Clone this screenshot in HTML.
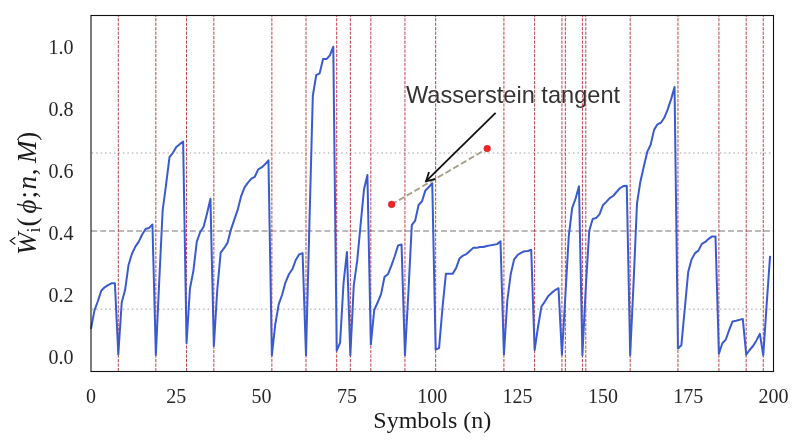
<!DOCTYPE html>
<html><head><meta charset="utf-8"><style>
html,body{margin:0;padding:0;background:#fff;}
svg{display:block;will-change:transform;}
.tk{font-family:"Liberation Serif",serif;font-size:20px;fill:#262626;}
.rl{stroke:#b82c36;stroke-width:1.0;stroke-dasharray:3.2 1.285;stroke-dashoffset:1.825;opacity:0.9}
</style></head><body>
<svg width="797" height="444" viewBox="0 0 797 444">
<rect width="797" height="444" fill="#fff"/>
<line x1="91.75" y1="153.07" x2="773.5" y2="153.07" stroke="#c0c0c0" stroke-width="1.5" stroke-dasharray="1.5 2.955"/>
<line x1="91.75" y1="309.3" x2="773.5" y2="309.3" stroke="#c0c0c0" stroke-width="1.5" stroke-dasharray="1.5 2.955"/>
<line x1="91.15" y1="231.07" x2="773.5" y2="231.07" stroke="#a4a4a4" stroke-width="1.6" stroke-dasharray="6.0 2.97"/>
<text x="405.9" y="103.0" font-family="'Liberation Sans', sans-serif" font-size="23.6" fill="#333">Wasserstein tangent</text>
<line x1="391.65" y1="204.4" x2="487.1" y2="148.7" stroke="#a69f8a" stroke-width="1.9" stroke-dasharray="6.2 2.77" stroke-dashoffset="0.47"/>
<line x1="118.30" y1="15.5" x2="118.30" y2="371.5" class="rl"/>
<line x1="155.84" y1="15.5" x2="155.84" y2="371.5" class="rl"/>
<line x1="186.55" y1="15.5" x2="186.55" y2="371.5" class="rl"/>
<line x1="213.85" y1="15.5" x2="213.85" y2="371.5" class="rl"/>
<line x1="271.86" y1="15.5" x2="271.86" y2="371.5" class="rl"/>
<line x1="305.99" y1="15.5" x2="305.99" y2="371.5" class="rl"/>
<line x1="336.70" y1="15.5" x2="336.70" y2="371.5" class="rl"/>
<line x1="350.35" y1="15.5" x2="350.35" y2="371.5" class="rl"/>
<line x1="370.82" y1="15.5" x2="370.82" y2="371.5" class="rl"/>
<line x1="404.95" y1="15.5" x2="404.95" y2="371.5" class="rl"/>
<line x1="435.66" y1="15.5" x2="435.66" y2="371.5" class="rl"/>
<line x1="503.91" y1="15.5" x2="503.91" y2="371.5" class="rl"/>
<line x1="534.62" y1="15.5" x2="534.62" y2="371.5" class="rl"/>
<line x1="561.92" y1="15.5" x2="561.92" y2="371.5" class="rl"/>
<line x1="565.34" y1="15.5" x2="565.34" y2="371.5" class="rl"/>
<line x1="582.40" y1="15.5" x2="582.40" y2="371.5" class="rl"/>
<line x1="585.81" y1="15.5" x2="585.81" y2="371.5" class="rl"/>
<line x1="630.18" y1="15.5" x2="630.18" y2="371.5" class="rl"/>
<line x1="677.95" y1="15.5" x2="677.95" y2="371.5" class="rl"/>
<line x1="718.90" y1="15.5" x2="718.90" y2="371.5" class="rl"/>
<line x1="746.20" y1="15.5" x2="746.20" y2="371.5" class="rl"/>
<line x1="763.26" y1="15.5" x2="763.26" y2="371.5" class="rl"/>
<polyline points="91.00,328.91 94.41,310.59 97.83,301.27 101.24,290.72 104.65,287.30 108.06,285.13 111.47,283.26 114.89,283.26 118.30,354.37 121.71,302.51 125.12,289.78 128.54,264.94 131.95,253.77 135.36,246.62 138.78,241.66 142.19,234.52 145.60,228.93 149.01,228.00 152.43,224.58 155.84,354.99 159.25,280.78 162.66,210.30 166.07,184.53 169.49,157.20 172.90,152.85 176.31,146.95 179.73,144.16 183.14,141.68 186.55,343.19 189.96,288.54 193.38,270.84 196.79,241.66 200.20,232.03 203.61,226.75 207.03,213.40 210.44,198.81 213.85,345.99 217.26,289.78 220.68,252.52 224.09,248.18 227.50,242.90 230.91,229.55 234.33,219.61 237.74,209.68 241.15,196.01 244.56,187.32 247.97,182.66 251.39,178.63 254.80,176.76 258.21,169.31 261.62,167.45 265.04,164.34 268.45,160.31 271.86,355.30 275.27,324.25 278.69,304.38 282.10,294.75 285.51,282.33 288.93,274.26 292.34,269.29 295.75,259.98 299.16,254.39 302.58,253.15 305.99,355.30 309.40,224.89 312.81,95.72 316.23,75.23 319.64,73.37 323.05,59.08 326.46,59.08 329.88,55.36 333.29,46.66 336.70,350.64 340.11,342.57 343.52,283.26 346.94,251.90 350.35,355.30 353.76,285.44 357.18,260.91 360.59,224.89 364.00,189.49 367.41,174.90 370.82,344.43 374.24,309.97 377.65,302.51 381.06,294.13 384.48,277.05 387.89,274.26 391.30,265.88 394.71,256.25 398.12,245.38 401.54,244.45 404.95,355.30 408.36,293.20 411.78,225.20 415.19,220.54 418.60,205.02 422.01,201.29 425.43,190.42 428.84,187.01 432.25,183.28 435.66,349.71 439.07,348.16 442.49,307.79 445.90,273.64 449.31,273.64 452.73,273.64 456.14,268.05 459.55,258.42 462.96,255.63 466.38,254.08 469.79,250.97 473.20,247.87 476.61,247.87 480.03,246.94 483.44,246.94 486.85,246.00 490.26,245.38 493.68,244.76 497.09,244.14 500.50,241.35 503.91,354.37 507.32,300.34 510.74,273.95 514.15,259.36 517.56,255.01 520.98,252.84 524.39,251.28 527.80,250.97 531.21,249.73 534.62,350.02 538.04,326.73 541.45,306.55 544.86,301.58 548.28,295.99 551.69,292.89 555.10,290.10 558.51,288.23 561.92,354.68 565.34,296.31 568.75,236.38 572.16,208.12 575.58,198.50 578.99,186.39 582.40,355.30 585.81,286.99 589.23,231.10 592.64,218.99 596.05,218.06 599.46,214.33 602.88,205.33 606.29,201.91 609.70,198.19 613.11,196.01 616.52,191.98 619.94,188.25 623.35,186.08 626.76,185.77 630.18,355.30 633.59,282.33 637.00,203.47 640.41,181.42 643.83,166.52 647.24,151.92 650.65,144.78 654.06,129.88 657.48,124.29 660.89,122.74 664.30,117.77 667.71,109.38 671.12,99.14 674.54,87.03 677.95,348.47 681.36,345.36 684.77,308.73 688.19,272.09 691.60,259.36 695.01,253.15 698.43,250.66 701.84,243.83 705.25,241.97 708.66,238.86 712.08,236.38 715.49,236.38 718.90,353.75 722.31,343.19 725.73,339.78 729.14,330.15 732.55,321.46 735.96,320.83 739.38,319.90 742.79,318.97 746.20,354.68 749.61,350.02 753.02,345.99 756.44,340.40 759.85,333.88 763.26,355.30 766.68,304.07 770.09,255.94" fill="none" stroke="#3a5bd0" stroke-width="2.0" stroke-linejoin="round"/>
<circle cx="391.65" cy="204.4" r="3.3" fill="#f22626" stroke="#c82024" stroke-width="0.6"/>
<circle cx="487.2" cy="148.6" r="3.3" fill="#f22626" stroke="#c82024" stroke-width="0.6"/>
<g stroke="#111" stroke-width="1.8" fill="none">
<line x1="495.6" y1="112.9" x2="425.6" y2="181.7"/>
<polyline points="429.0,172.0 426.1,181.3 435.5,178.8" stroke-linejoin="miter"/>
</g>
<rect x="91.0" y="15.5" width="682.5" height="356.0" fill="none" stroke="#111" stroke-width="1.1"/>
<text x="73.5" y="364.30" class="tk" text-anchor="end">0.0</text>
<text x="73.5" y="302.20" class="tk" text-anchor="end">0.2</text>
<text x="73.5" y="240.10" class="tk" text-anchor="end">0.4</text>
<text x="73.5" y="178.00" class="tk" text-anchor="end">0.6</text>
<text x="73.5" y="115.90" class="tk" text-anchor="end">0.8</text>
<text x="73.5" y="53.80" class="tk" text-anchor="end">1.0</text>
<text x="91.00" y="403.2" class="tk" text-anchor="middle">0</text>
<text x="176.31" y="403.2" class="tk" text-anchor="middle">25</text>
<text x="261.62" y="403.2" class="tk" text-anchor="middle">50</text>
<text x="346.94" y="403.2" class="tk" text-anchor="middle">75</text>
<text x="432.25" y="403.2" class="tk" text-anchor="middle">100</text>
<text x="517.56" y="403.2" class="tk" text-anchor="middle">125</text>
<text x="602.88" y="403.2" class="tk" text-anchor="middle">150</text>
<text x="688.19" y="403.2" class="tk" text-anchor="middle">175</text>
<text x="773.50" y="403.2" class="tk" text-anchor="middle">200</text>
<text x="432.3" y="427.8" text-anchor="middle" font-family="'Liberation Serif', serif" font-size="24" fill="#1a1a1a">Symbols (n)</text>
<g transform="translate(36,252.9) rotate(-90)" font-family="'Liberation Serif', serif" font-size="27" fill="#1a1a1a">
<text x="-2.1" y="0" font-style="italic">W</text>
<text x="20.4" y="3.8" font-size="18.5">i</text>
<text x="26.5" y="0">(</text>
<text x="39.3" y="0" font-style="italic">ϕ</text>
<text x="54.4" y="0">;</text>
<text x="63.5" y="0" font-style="italic">n</text>
<text x="77.7" y="0">,</text>
<text x="89.8" y="0" font-style="italic">M</text>
<text x="112.2" y="0">)</text>
</g>
<polyline points="15.3,237.2 10.2,240.85 15.3,244.5" fill="none" stroke="#1a1a1a" stroke-width="1.2"/>
</svg>
</body></html>
